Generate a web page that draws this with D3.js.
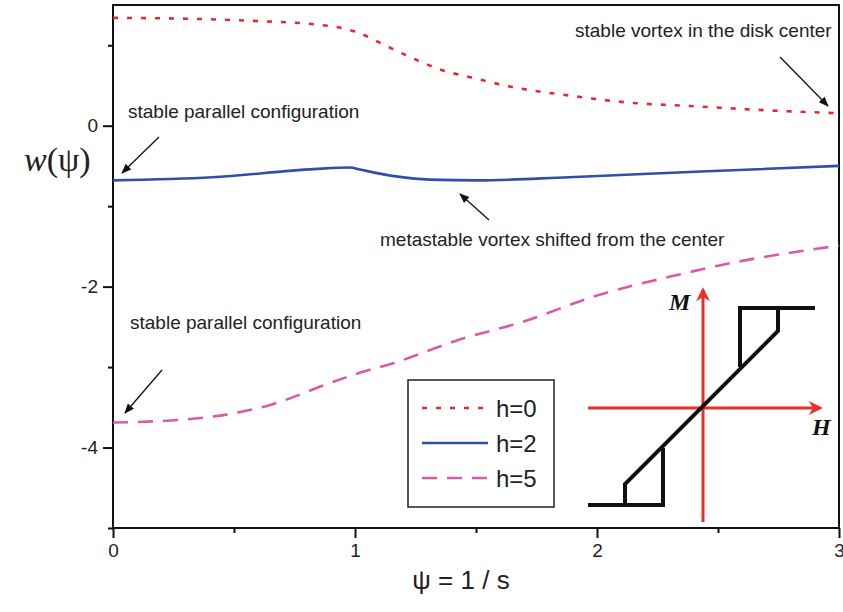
<!DOCTYPE html>
<html>
<head>
<meta charset="utf-8">
<script src="https://cdn.jsdelivr.net/npm/d3@7"></script>
<style>
  body { margin: 0; background: #fff; }
  svg { font-family: "Liberation Sans", Arial, sans-serif; }
</style>
</head>
<body>
<svg id="chart" width="843" height="612"></svg>
<script>
// curve samples (psi, w)
const psiH0 = [0, 0.30, 0.60, 0.83, 0.95, 1.01, 1.13, 1.245, 1.36, 1.48, 1.65, 1.885, 2.12, 2.41, 2.71, 3.0];
const wH0 = [1.34, 1.33, 1.30, 1.26, 1.21, 1.16, 0.99, 0.83, 0.69, 0.60, 0.48, 0.375, 0.29, 0.24, 0.19, 0.155];

const psiH2 = [0, 0.41, 0.83, 0.98, 1.02, 1.17, 1.31, 1.505, 1.885, 2.43, 3.0];
const wH2 = [-0.68, -0.64, -0.54, -0.52, -0.545, -0.63, -0.67, -0.68, -0.64, -0.57, -0.50];

const psiH5 = [0, 0.34, 0.65, 0.895, 1.0, 1.18, 1.415, 1.7, 2.0, 2.34, 2.5, 3.0];
const wH5 = [-3.69, -3.64, -3.47, -3.20, -3.09, -2.93, -2.675, -2.43, -2.11, -1.85, -1.74, -1.49];

const seriesNames = ['h=0', 'h=2', 'h=5'];
const seriesColors = ['#e8282a', '#2f4fa8', '#d85aa8'];
const seriesDash = ['5,9', null, '15,10'];

const xMajor = [0, 1, 2, 3];
const xMinor = [0.5, 1.5, 2.5];
const yMajor = [0, -2, -4];
const yMinor = [1, -1, -3, -5];

// inset hysteresis sketch, in its own (H, M) units
const loopLow = [[-1.15, -0.97], [-0.4, -0.97], [-0.4, -0.4]];
const loopMain = [[-0.78, -0.97], [-0.78, -0.76], [0.75, 0.77], [0.75, 1.0]];
const loopHigh = [[0.37, 0.41], [0.37, 1.0], [1.12, 1.0]];

const svg = d3.select('#chart');
const margin = { top: 5, right: 4, bottom: 84, left: 113 };
const width = 843, height = 612;

const x = d3.scaleLinear().domain([0, 3]).range([margin.left, width - margin.right]);
const y = d3.scaleLinear().domain([-5, 1.5]).range([height - margin.bottom, margin.top]);

const fmt = d => String(d); // plain hyphen minus, like the original

svg.append('defs').html(`
  <marker id="ah" viewBox="0 0 10 10" refX="9" refY="5" markerWidth="14" markerHeight="10" markerUnits="userSpaceOnUse" orient="auto">
    <path d="M0,1 L10,5 L0,9 z" fill="#111"/>
  </marker>
  <marker id="rh" viewBox="0 0 10 10" refX="8" refY="5" markerWidth="18" markerHeight="14" markerUnits="userSpaceOnUse" orient="auto">
    <path d="M0,0 L10,5 L0,10 L3,5 z" fill="#e8302a"/>
  </marker>`);

// frame
svg.append('rect')
  .attr('x', x(0)).attr('y', y(1.5))
  .attr('width', x(3) - x(0)).attr('height', y(-5) - y(1.5))
  .attr('fill', 'none').attr('stroke', '#111').attr('stroke-width', 2);

// axes
const xAxis = svg.append('g').attr('transform', `translate(0,${y(-5)})`);
xAxis.call(d3.axisBottom(x).tickValues(xMajor).tickSize(10).tickFormat(fmt));
xAxis.call(g => g.select('.domain').remove());
xAxis.selectAll('.tick line').attr('stroke', '#111').attr('stroke-width', 2);
xAxis.selectAll('.tick text').attr('font-size', 19).attr('fill', '#222').attr('y', 16);
svg.append('g').attr('transform', `translate(0,${y(-5)})`)
  .call(d3.axisBottom(x).tickValues(xMinor).tickSize(5).tickFormat(''))
  .call(g => g.select('.domain').remove())
  .selectAll('.tick line').attr('stroke', '#111').attr('stroke-width', 2);

const yAxis = svg.append('g').attr('transform', `translate(${x(0)},0)`);
yAxis.call(d3.axisLeft(y).tickValues(yMajor).tickSize(10).tickFormat(fmt));
yAxis.call(g => g.select('.domain').remove());
yAxis.selectAll('.tick line').attr('stroke', '#111').attr('stroke-width', 2);
yAxis.selectAll('.tick text').attr('font-size', 19).attr('fill', '#222').attr('x', -15);
svg.append('g').attr('transform', `translate(${x(0)},0)`)
  .call(d3.axisLeft(y).tickValues(yMinor).tickSize(5).tickFormat(''))
  .call(g => g.select('.domain').remove())
  .selectAll('.tick line').attr('stroke', '#111').attr('stroke-width', 2);

// curves
const line = d3.line().x(d => x(d[0])).y(d => y(d[1])).curve(d3.curveMonotoneX);
const series = [
  d3.zip(psiH0, wH0),
  d3.zip(psiH2, wH2),
  d3.zip(psiH5, wH5)
];
series.forEach((pts, i) => {
  svg.append('path').datum(pts)
    .attr('d', line)
    .attr('fill', 'none')
    .attr('stroke', seriesColors[i])
    .attr('stroke-width', 2.6)
    .attr('stroke-dasharray', seriesDash[i]);
});

// annotations
const notes = [
  { text: 'stable vortex in the disk center', tx: 575, ty: 37, a: [780, 57, 828, 106] },
  { text: 'stable parallel configuration', tx: 128, ty: 118, a: [159, 137, 122, 173] },
  { text: 'metastable vortex shifted from the center', tx: 380, ty: 246, a: [489, 220, 460, 194] },
  { text: 'stable parallel configuration', tx: 130, ty: 329, a: [162, 370, 125, 413] }
];
notes.forEach(n => {
  svg.append('text').attr('x', n.tx).attr('y', n.ty)
    .attr('font-size', 19).attr('fill', '#222').text(n.text);
  svg.append('line')
    .attr('x1', n.a[0]).attr('y1', n.a[1]).attr('x2', n.a[2]).attr('y2', n.a[3])
    .attr('stroke', '#111').attr('stroke-width', 1.3)
    .attr('marker-end', 'url(#ah)');
});

// legend
const lg = svg.append('g').attr('transform', 'translate(408,380)');
lg.append('rect').attr('width', 146).attr('height', 127)
  .attr('fill', '#fff').attr('stroke', '#222').attr('stroke-width', 1.5);
seriesNames.forEach((name, i) => {
  const ly = 28 + i * 35;
  lg.append('line').attr('x1', 14).attr('x2', 80).attr('y1', ly).attr('y2', ly)
    .attr('stroke', seriesColors[i]).attr('stroke-width', 2.6)
    .attr('stroke-dasharray', seriesDash[i]);
  lg.append('text').attr('x', 88).attr('y', ly + 9)
    .attr('font-size', 24).attr('fill', '#222').text(name);
});

// inset: hysteresis sketch
const hx = d3.scaleLinear().domain([-1, 1]).range([603, 803]);
const my = d3.scaleLinear().domain([-1, 1]).range([508, 308]);
const ins = svg.append('g');
ins.append('line')
  .attr('x1', hx(-1.15)).attr('x2', hx(1.17)).attr('y1', my(0)).attr('y2', my(0))
  .attr('stroke', '#e8302a').attr('stroke-width', 3).attr('marker-end', 'url(#rh)');
ins.append('line')
  .attr('x1', hx(0)).attr('x2', hx(0)).attr('y1', my(-1.14)).attr('y2', my(1.18))
  .attr('stroke', '#e8302a').attr('stroke-width', 3).attr('marker-end', 'url(#rh)');
const iline = d3.line().x(d => hx(d[0])).y(d => my(d[1]));
[loopLow, loopMain, loopHigh].forEach(pts => {
  ins.append('path').attr('d', iline(pts))
    .attr('fill', 'none').attr('stroke', '#111').attr('stroke-width', 4)
    .attr('stroke-linejoin', 'miter');
});
ins.append('text').attr('x', hx(-0.34)).attr('y', my(0.98))
  .attr('font-family', '"Liberation Serif", "DejaVu Serif", serif')
  .attr('font-style', 'italic').attr('font-weight', 'bold')
  .attr('font-size', 24).attr('fill', '#111').text('M');
ins.append('text').attr('x', hx(1.09)).attr('y', my(-0.27))
  .attr('font-family', '"Liberation Serif", "DejaVu Serif", serif')
  .attr('font-style', 'italic').attr('font-weight', 'bold')
  .attr('font-size', 24).attr('fill', '#111').text('H');

// axis titles
const yl = svg.append('text').attr('x', 24).attr('y', 171)
  .attr('font-family', '"Liberation Serif", "DejaVu Serif", serif')
  .attr('font-size', 34).attr('fill', '#222');
yl.append('tspan').attr('font-style', 'italic').text('w');
yl.append('tspan').text('(ψ)');

svg.append('text').attr('x', 461).attr('y', 589)
  .attr('text-anchor', 'middle').attr('font-size', 26).attr('fill', '#222')
  .attr('xml:space', 'preserve')
  .text('ψ = 1 / s');
</script>
</body>
</html>
